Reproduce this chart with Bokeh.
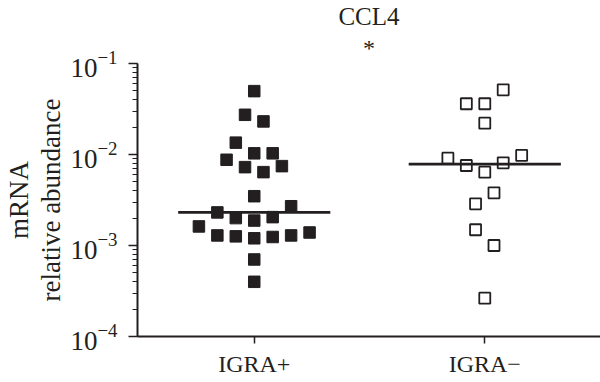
import numpy as np
from bokeh.plotting import figure
from bokeh.models import FixedTicker, LogAxis, Title
from bokeh.embed import file_html
from bokeh.resources import INLINE

# ---- data ----
categories = ["IGRA+", "IGRA\u2212"]
title_text = "CCL4"
signif_text = "*"
y_label_outer = "mRNA"
y_label_inner = "relative abundance"
y_axis_bounds = (1e-4, 1e-1)

igra_pos_values = [0.0497, 0.0273, 0.0231, 0.0135, 0.0103, 0.0103, 0.00875, 0.00726,
                   0.0064, 0.00745, 0.00348, 0.0027, 0.00231, 0.0020, 0.00188, 0.00205,
                   0.00162, 0.00129, 0.00126, 0.0012, 0.00124, 0.00129, 0.00139,
                   0.000702, 0.000399]
igra_pos_jitter = [0, -0.04, 0.04, -0.08, 0, 0.08, -0.12, -0.04, 0.04, 0.12, 0, 0.16,
                   -0.16, -0.08, 0, 0.08, -0.24, -0.16, -0.08, 0, 0.08, 0.16, 0.24, 0, 0]

igra_neg_values = [0.0514, 0.0361, 0.0361, 0.0221, 0.00912, 0.00976, 0.00757, 0.0081,
                   0.0064, 0.00379, 0.00287, 0.00149, 0.0010, 0.000264]
igra_neg_jitter = [0.08, -0.08, 0, 0, -0.16, 0.16, -0.08, 0.08, 0, 0.04, -0.04, -0.04,
                   0.04, 0]

INK = "#231f20"
FONT = "Liberation Serif"

p = figure(width=600, height=382, y_axis_type="log",
           x_range=(0.4936, 2.502), y_range=y_axis_bounds,
           output_backend="svg", toolbar_location=None,
           min_border_left=128, min_border_right=0, min_border_top=63,
           min_border_bottom=46)

p.outline_line_color = None
p.xgrid.visible = False
p.ygrid.visible = False
p.background_fill_color = "white"

pos_x = [1 + j for j in igra_pos_jitter]
neg_x = [2 + j for j in igra_neg_jitter]

p.scatter(x=pos_x, y=igra_pos_values, marker="square", size=11.5,
          fill_color=INK, line_color=INK, line_width=1)
p.scatter(x=neg_x, y=igra_neg_values, marker="square", size=11,
          fill_color=None, line_color=INK, line_width=1.8)

medians = [float(np.median(igra_pos_values)), float(np.median(igra_neg_values))]
centers = [1, 2]
p.segment(x0=[c - 0.33 for c in centers], x1=[c + 0.33 for c in centers],
          y0=medians, y1=medians, line_color=INK, line_width=2.6)

# axes
p.xaxis.ticker = FixedTicker(ticks=centers)
p.xaxis.major_label_overrides = {c: lab for c, lab in zip(centers, categories)}
p.xaxis.minor_tick_line_color = None
p.xaxis.major_tick_out = 7
p.xaxis.major_tick_in = 0
p.xaxis.major_label_standoff = 7
p.xaxis.major_label_text_font = FONT
p.xaxis.major_label_text_font_size = "24px"
p.xaxis.major_label_text_color = INK
p.xaxis.axis_line_width = 2
p.xaxis.axis_line_color = INK
p.xaxis.major_tick_line_color = INK
p.xaxis.major_tick_line_width = 1.5

p.yaxis.major_tick_out = 9
p.yaxis.major_tick_in = 0
p.yaxis.minor_tick_out = 5
p.yaxis.minor_tick_in = 0
p.yaxis.major_label_standoff = 11
p.yaxis.major_label_text_font = FONT
p.yaxis.major_label_text_font_size = "27px"
p.yaxis.major_label_text_color = INK
p.yaxis.axis_line_width = 2
p.yaxis.axis_line_color = INK
p.yaxis.major_tick_line_color = INK
p.yaxis.minor_tick_line_color = INK
p.yaxis.major_tick_line_width = 1.5
p.yaxis.minor_tick_line_width = 1.2
p.yaxis.axis_label = y_label_inner
p.yaxis.axis_label_text_font = FONT
p.yaxis.axis_label_text_font_size = "27px"
p.yaxis.axis_label_text_font_style = "normal"
p.yaxis.axis_label_text_color = INK
p.yaxis.axis_label_standoff = 1

outer = LogAxis(ticker=FixedTicker(ticks=[]), axis_label=y_label_outer,
                axis_line_color=None, major_tick_line_color=None,
                minor_tick_line_color=None, axis_label_standoff=0,
                axis_label_text_font=FONT, axis_label_text_font_size="27px",
                axis_label_text_font_style="normal", axis_label_text_color=INK,
                major_tick_out=0, minor_tick_out=0, major_label_standoff=0)
p.add_layout(outer, "left")

t_star = Title(text=signif_text, align="center", text_font=FONT,
               text_font_size="24px", text_font_style="normal",
               text_color=INK, standoff=6)
p.add_layout(t_star, "above")
t_main = Title(text=title_text, align="center", text_font=FONT,
               text_font_size="25px", text_font_style="normal",
               text_color=INK, standoff=0)
p.add_layout(t_main, "above")

open("out.html", "w").write(file_html(p, INLINE))
